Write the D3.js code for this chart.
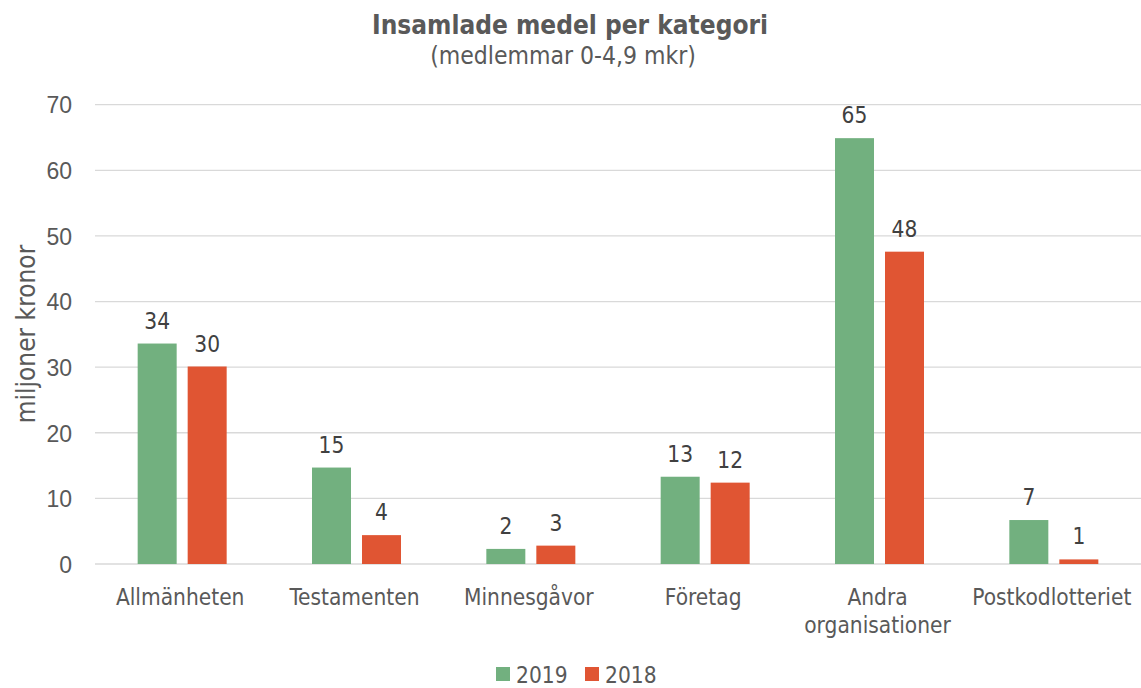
<!DOCTYPE html>
<html>
<head>
<meta charset="utf-8">
<script src="https://cdn.jsdelivr.net/npm/d3@7"></script>
<style>
  html, body { margin: 0; padding: 0; background: #fff; }
  svg { display: block; font-family: "DejaVu Sans Condensed", "DejaVu Sans", sans-serif; font-stretch: condensed; }
</style>
</head>
<body>
<svg id="chart" width="1141" height="688"></svg>
<script>
// Kategorier och värden (miljoner kronor)
const categories = ["Allmänheten", "Testamenten", "Minnesgåvor", "Företag", "Andra organisationer", "Postkodlotteriet"];
const categoryLines = [["Allmänheten"], ["Testamenten"], ["Minnesgåvor"], ["Företag"], ["Andra", "organisationer"], ["Postkodlotteriet"]];
const seriesNames = ["2019", "2018"];
const values2019 = [33.6, 14.7, 2.3, 13.3, 64.9, 6.7];
const values2018 = [30.1, 4.4, 2.8, 12.4, 47.6, 0.7];
const yTicks = [0, 10, 20, 30, 40, 50, 60, 70];

const colors = { "2019": "#72b07f", "2018": "#e05533" };
const textColor = "#595959";

const svg = d3.select("#chart");
const plotLeft = 95, plotRight = 1141;

const x = d3.scaleBand().domain(categories).range([plotLeft, plotRight]);
const y = d3.scaleLinear().domain([0, 70]).range([564, 104.7]);

const rows = categories.map((c, i) => ({ cat: c, vals: [
  { s: "2019", v: values2019[i] },
  { s: "2018", v: values2018[i] }
]}));

// gridlines
svg.append("g")
  .selectAll("line")
  .data(yTicks)
  .join("line")
  .attr("x1", plotLeft).attr("x2", plotRight)
  .attr("y1", d => y(d)).attr("y2", d => y(d))
  .attr("stroke", "#d9d9d9").attr("stroke-width", 1.3);

// y axis labels
const yAxis = d3.axisLeft(y).tickValues(yTicks).tickSize(0).tickPadding(0);
const gy = svg.append("g").attr("transform", "translate(72,0)").call(yAxis);
gy.select(".domain").remove();
gy.selectAll("text").attr("fill", textColor).style("font-size", "23px")
  .style("font-family", null).attr("dy", "0.36em");

// y axis title
svg.append("text")
  .attr("transform", "translate(35,334) rotate(-90)")
  .attr("text-anchor", "middle")
  .attr("fill", textColor)
  .style("font-size", "26px")
  .text("miljoner kronor");

// bars
const groupWidth = 89;
const sub = d3.scaleBand().domain(seriesNames).range([0, groupWidth]).paddingInner(0.22);
const groups = svg.append("g").selectAll("g")
  .data(rows)
  .join("g")
  .attr("transform", d => `translate(${x(d.cat) + x.bandwidth() / 2 - groupWidth / 2},0)`);

groups.selectAll("rect")
  .data(d => d.vals)
  .join("rect")
  .attr("x", d => sub(d.s))
  .attr("width", sub.bandwidth())
  .attr("y", d => y(d.v))
  .attr("height", d => y(0) - y(d.v))
  .attr("fill", d => colors[d.s]);

groups.selectAll("text.val")
  .data(d => d.vals)
  .join("text")
  .attr("class", "val")
  .attr("x", d => sub(d.s) + sub.bandwidth() / 2)
  .attr("y", d => y(d.v) - 15)
  .attr("text-anchor", "middle")
  .attr("fill", "#404040")
  .style("font-size", "22.5px")
  .text(d => d3.format(".0f")(d.v));

// category labels
const xl = svg.append("g");
categories.forEach((c, i) => {
  const cx = x(c) + x.bandwidth() / 2 - 2;
  const t = xl.append("text")
    .attr("x", cx)
    .attr("y", 605)
    .attr("text-anchor", "middle")
    .attr("fill", textColor)
    .style("font-size", "22.5px");
  categoryLines[i].forEach((line, j) => {
    t.append("tspan").attr("x", cx).attr("dy", j === 0 ? 0 : 28).text(line);
  });
});

// title
svg.append("text")
  .attr("x", 570).attr("y", 33.5)
  .attr("text-anchor", "middle")
  .attr("fill", textColor)
  .style("font-size", "26px").style("font-weight", "bold")
  .text("Insamlade medel per kategori");
svg.append("text")
  .attr("x", 563).attr("y", 64)
  .attr("text-anchor", "middle")
  .attr("fill", textColor)
  .style("font-size", "24.5px")
  .text("(medlemmar 0-4,9 mkr)");

// legend
const legend = svg.append("g").attr("transform", "translate(496,667)");
const legendX = d3.scaleOrdinal().domain(seriesNames).range([0, 89]);
const li = legend.selectAll("g").data(seriesNames).join("g")
  .attr("transform", d => `translate(${legendX(d)},0)`);
li.append("rect").attr("width", 14).attr("height", 14).attr("fill", d => colors[d]);
li.append("text").attr("x", 20).attr("y", 15.5).attr("fill", textColor)
  .style("font-size", "22.5px").text(d => d);
</script>
</body>
</html>
